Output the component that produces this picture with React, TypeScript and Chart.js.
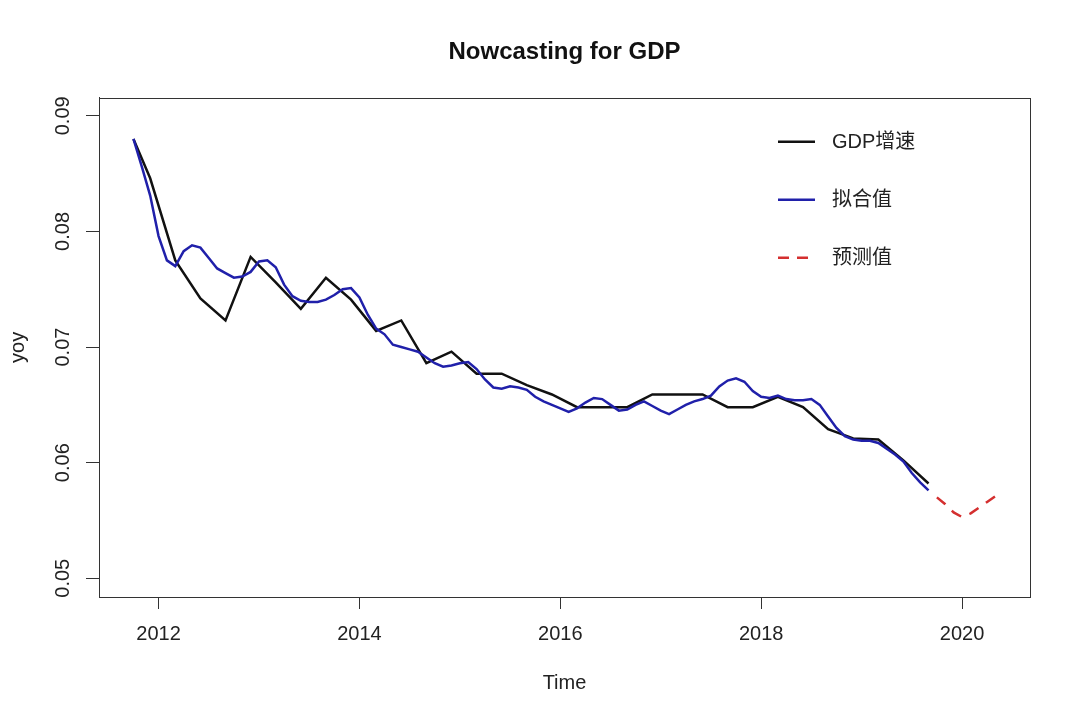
import React, { useEffect, useRef } from 'react';
import { Chart, registerables } from 'chart.js';

Chart.register(...registerables);

const FONT = "'Liberation Sans', Arial, 'Noto Sans CJK SC', sans-serif";

const titleText = 'Nowcasting for GDP';
const xTitle = 'Time';
const yTitle = 'yoy';
const xTickValues = [2012, 2014, 2016, 2018, 2020];
const yTickValues = [0.05, 0.06, 0.07, 0.08, 0.09];
const seriesNames = ['GDP增速', '拟合值', '预测值'];

// GDP growth (quarter-end months)
const gdpMonths = [
  '2011-10', '2011-12',
  '2012-03', '2012-06', '2012-09', '2012-12',
  '2013-03', '2013-06', '2013-09', '2013-12',
  '2014-03', '2014-06', '2014-09', '2014-12',
  '2015-03', '2015-06', '2015-09', '2015-12',
  '2016-03', '2016-06', '2016-09', '2016-12',
  '2017-03', '2017-06', '2017-09', '2017-12',
  '2018-03', '2018-06', '2018-09', '2018-12',
  '2019-03', '2019-06', '2019-09',
];
const gdpValues = [
  0.0880, 0.0846,
  0.0775, 0.0742, 0.0723, 0.0778,
  0.0756, 0.0733, 0.0760, 0.0741,
  0.0714, 0.0723, 0.0686, 0.0696,
  0.0677, 0.0677, 0.0667, 0.0659,
  0.0648, 0.0648, 0.0648, 0.0659,
  0.0659, 0.0659, 0.0648, 0.0648,
  0.0657, 0.0648, 0.0629, 0.0621,
  0.0620, 0.0602, 0.0582,
];

// Fitted values, monthly from 2011-10
const fitStart = '2011-10';
const fitValues = [
  0.0880, 0.0856, 0.0831,
  0.0796, 0.0775, 0.0770, 0.0783, 0.0788, 0.0786, 0.0777, 0.0768, 0.0764, 0.0760, 0.0761, 0.0765,
  0.0774, 0.0775, 0.0769, 0.0754, 0.0744, 0.0740, 0.0739, 0.0739, 0.0741, 0.0745, 0.0750, 0.0751,
  0.0743, 0.0728, 0.0716, 0.0711, 0.0702, 0.0700, 0.0698, 0.0696, 0.0691, 0.0686, 0.0683, 0.0684,
  0.0686, 0.0687, 0.0681, 0.0672, 0.0665, 0.0664, 0.0666, 0.0665, 0.0663, 0.0657, 0.0653, 0.0650,
  0.0647, 0.0644, 0.0647, 0.0652, 0.0656, 0.0655, 0.0650, 0.0645, 0.0646, 0.0650, 0.0653, 0.0649,
  0.0645, 0.0642, 0.0646, 0.0650, 0.0653, 0.0655, 0.0658, 0.0666, 0.0671, 0.0673, 0.0670, 0.0662,
  0.0657, 0.0656, 0.0658, 0.0655, 0.0654, 0.0654, 0.0655, 0.0650, 0.0640, 0.0630, 0.0623, 0.0620,
  0.0619, 0.0619, 0.0617, 0.0612, 0.0607, 0.0601, 0.0591, 0.0583, 0.0576,
];

// Forecast values, monthly from 2019-10
const forecastStart = '2019-10';
const forecastValues = [0.0570, 0.0564, 0.0557, 0.0553, 0.0556, 0.0561, 0.0566, 0.0571];

const seriesColors = ['#111111', '#2020aa', '#d42f2f'];

const toT = (ym: string) => {
  const [y, m] = ym.split('-').map(Number);
  return y + (m - 1) / 12;
};
const monthly = (start: string, values: number[]) => {
  const t0 = toT(start);
  return values.map((v, i) => ({ x: t0 + i / 12, y: v }));
};

const boxPlugin = {
  id: 'rbox',
  afterDraw(chart: any) {
    const { ctx, chartArea } = chart;
    ctx.save();
    ctx.strokeStyle = '#333';
    ctx.lineWidth = 1;
    ctx.strokeRect(
      Math.round(chartArea.left) + 0.5,
      Math.round(chartArea.top) + 0.5,
      Math.round(chartArea.right - chartArea.left),
      Math.round(chartArea.bottom - chartArea.top)
    );
    ctx.restore();
  },
};

const legendPlugin = {
  id: 'rlegend',
  afterDraw(chart: any) {
    const { ctx, chartArea } = chart;
    const x0 = chartArea.right - 252;
    const rows = [chartArea.top + 44, chartArea.top + 102, chartArea.top + 160];
    ctx.save();
    ctx.font = `20px ${FONT}`;
    ctx.textBaseline = 'middle';
    ctx.textAlign = 'left';
    seriesNames.forEach((name, i) => {
      const y = rows[i];
      ctx.beginPath();
      ctx.strokeStyle = seriesColors[i];
      ctx.lineWidth = 2.5;
      ctx.setLineDash(i === 2 ? [11, 8] : []);
      ctx.moveTo(x0, y);
      ctx.lineTo(x0 + 37, y);
      ctx.stroke();
      ctx.setLineDash([]);
      ctx.fillStyle = '#222';
      ctx.fillText(name, x0 + 54, y + 1);
    });
    ctx.restore();
  },
};

export default function App() {
  const ref = useRef<HTMLCanvasElement>(null);
  useEffect(() => {
    document.body.style.margin = '0';
    const chart = new Chart(ref.current!, {
      type: 'line',
      data: {
        datasets: [
          {
            label: seriesNames[2],
            data: monthly(forecastStart, forecastValues),
            borderColor: seriesColors[2],
            borderWidth: 2.5,
            borderDash: [11, 9],
            pointRadius: 0,
            tension: 0,
            order: 0,
          },
          {
            label: seriesNames[1],
            data: monthly(fitStart, fitValues),
            borderColor: seriesColors[1],
            borderWidth: 2.5,
            pointRadius: 0,
            tension: 0,
            order: 1,
          },
          {
            label: seriesNames[0],
            data: gdpMonths.map((m, i) => ({ x: toT(m), y: gdpValues[i] })),
            borderColor: seriesColors[0],
            borderWidth: 2.5,
            pointRadius: 0,
            tension: 0,
            order: 2,
          },
        ],
      },
      options: {
        animation: false,
        responsive: false,
        devicePixelRatio: 1,
        layout: { padding: { left: 0, right: 50, top: 0, bottom: 0 } },
        plugins: {
          legend: { display: false },
          tooltip: { enabled: false },
          title: {
            display: true,
            text: titleText,
            fullSize: false,
            color: '#111',
            font: { family: FONT, size: 24, weight: 'bold' },
            padding: { top: 38, bottom: 31 },
          },
        },
        scales: {
          x: {
            type: 'linear',
            min: 2011.407,
            max: 2020.677,
            afterBuildTicks: (s: any) => {
              s.ticks = xTickValues.map((v) => ({ value: v }));
            },
            afterFit: (s: any) => {
              s.height = 123;
            },
            ticks: {
              autoSkip: false,
              minRotation: 0,
              maxRotation: 0,
              padding: 13,
              color: '#222',
              font: { family: FONT, size: 20 },
              callback: (v: any) => String(v),
            },
            grid: { drawOnChartArea: false, drawTicks: true, tickLength: 12, tickColor: '#333' },
            border: { display: true, color: '#333' },
            title: {
              display: true,
              text: xTitle,
              color: '#222',
              font: { family: FONT, size: 20 },
              padding: { top: 0, bottom: 25 },
            },
          },
          y: {
            type: 'linear',
            min: 0.04838,
            max: 0.09156,
            afterBuildTicks: (s: any) => {
              s.ticks = yTickValues.map((v) => ({ value: v }));
            },
            afterFit: (s: any) => {
              s.width = 99;
            },
            ticks: {
              autoSkip: false,
              minRotation: 90,
              maxRotation: 90,
              crossAlign: 'center',
              padding: 3,
              color: '#222',
              font: { family: FONT, size: 20 },
              callback: (v: any) => Number(v).toFixed(2),
            },
            grid: { drawOnChartArea: false, drawTicks: true, tickLength: 13, tickColor: '#333' },
            border: { display: true, color: '#333' },
            title: {
              display: true,
              text: yTitle,
              color: '#222',
              font: { family: FONT, size: 20 },
              padding: { top: 6, bottom: 0 },
            },
          },
        },
      } as any,
      plugins: [boxPlugin, legendPlugin],
    });
    return () => chart.destroy();
  }, []);
  return (
    <div style={{ position: 'absolute', left: 0, top: 0, width: 1080, height: 720, background: '#fff' }}>
      <canvas ref={ref} width={1080} height={720} />
    </div>
  );
}
